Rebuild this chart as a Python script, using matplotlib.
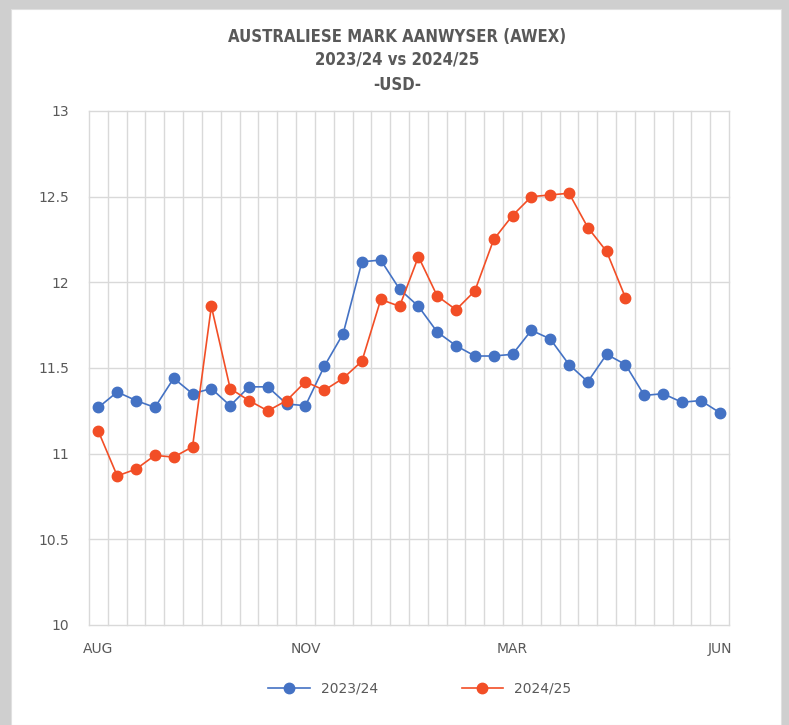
import matplotlib
matplotlib.use("Agg")
import matplotlib.pyplot as plt
from matplotlib.patches import Rectangle

# AWEX market indicator, USD, weekly sale points
season_a = "2023/24"
season_b = "2024/25"
values_a = [11.27, 11.36, 11.31, 11.27, 11.44, 11.35, 11.38, 11.28, 11.39, 11.39,
            11.29, 11.28, 11.51, 11.70, 12.12, 12.13, 11.96, 11.86, 11.71, 11.63,
            11.57, 11.57, 11.58, 11.72, 11.67, 11.52, 11.42, 11.58, 11.52, 11.34,
            11.35, 11.30, 11.31, 11.24]
values_b = [11.13, 10.87, 10.91, 10.99, 10.98, 11.04, 11.86, 11.38, 11.31, 11.25,
            11.31, 11.42, 11.37, 11.44, 11.54, 11.90, 11.86, 12.15, 11.92, 11.84,
            11.95, 12.25, 12.39, 12.50, 12.51, 12.52, 12.32, 12.18, 11.91]
month_labels = {0: "AUG", 11: "NOV", 22: "MAR", 33: "JUN"}

BLUE = "#4472C4"
ORANGE = "#F24E26"
TXT = "#595959"
GRID = "#D9D9D9"

fig = plt.figure(figsize=(7.89, 7.25), dpi=100)
fig.patch.set_facecolor("#CFCFCF")
# white chart panel
fig.patches.append(Rectangle((11 / 789, 0), 770 / 789, 716 / 725,
                             transform=fig.transFigure, facecolor="white",
                             edgecolor="#E0E0E0", linewidth=0.8, zorder=-5))

ax = fig.add_axes([89 / 789, 1 - 625 / 725, 640 / 789, 514 / 725])
ax.set_zorder(2)
ax.set_facecolor("white")

n = len(values_a)
xa = range(len(values_a))
xb = range(len(values_b))
ax.plot(xa, values_a, color=BLUE, lw=1.2, marker="o", ms=7.5, label=season_a, zorder=3)
ax.plot(xb, values_b, color=ORANGE, lw=1.2, marker="o", ms=7.5, label=season_b, zorder=3)

ax.set_xlim(-0.5, n - 0.5)
ax.set_ylim(10, 13)
ax.set_yticks([10, 10.5, 11, 11.5, 12, 12.5, 13])
ax.set_yticklabels(["10", "10.5", "11", "11.5", "12", "12.5", "13"])

# vertical gridlines between categories
for b in range(n + 1):
    ax.axvline(b - 0.5, color=GRID, lw=1.0, zorder=1, clip_on=False)
for yv in [10.5, 11, 11.5, 12, 12.5, 13]:
    ax.axhline(yv, color=GRID, lw=1.0, zorder=1, clip_on=False)

ax.set_xticks(list(month_labels.keys()))
ax.set_xticklabels(list(month_labels.values()))
ax.tick_params(axis="both", length=0, colors=TXT, labelsize=10)
ax.tick_params(axis="x", pad=12)
ax.tick_params(axis="y", pad=14)
for s in ["top", "right", "left"]:
    ax.spines[s].set_visible(False)
ax.spines["bottom"].set_color(GRID)
ax.spines["bottom"].set_linewidth(1.0)

title_kw = dict(ha="center", va="center", fontsize=12, fontweight="bold",
                color=TXT, family="DejaVu Sans", fontstretch="condensed")
fig.text(397 / 789, 1 - 37 / 725, "AUSTRALIESE MARK AANWYSER (AWEX)", **title_kw)
fig.text(397 / 789, 1 - 60 / 725, "2023/24 vs 2024/25", **title_kw)
fig.text(397 / 789, 1 - 85 / 725, "-USD-", **title_kw)

leg = fig.legend(loc="center", bbox_to_anchor=(420 / 789, 1 - 689 / 725), ncol=2,
                 frameon=False, fontsize=10, columnspacing=6, handlelength=3)
for t in leg.get_texts():
    t.set_color(TXT)

fig.savefig("out.png", dpi=100, facecolor=fig.get_facecolor())
